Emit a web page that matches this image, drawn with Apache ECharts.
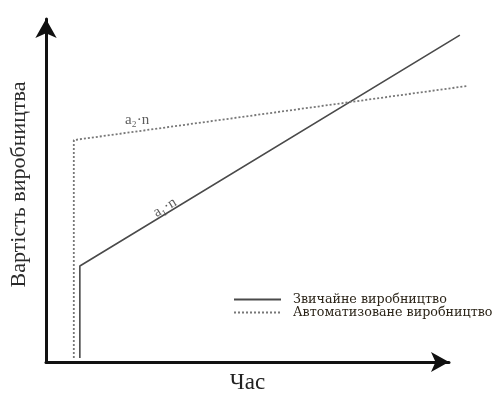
<!DOCTYPE html>
<html>
<head>
<meta charset="utf-8">
<script src="https://cdn.jsdelivr.net/npm/echarts@6/dist/echarts.min.js"></script>
<style>html,body{margin:0;padding:0;background:#fff}#c{width:493px;height:394px}</style>
</head>
<body>
<div id="c"></div>
<script>
// Series names
var seriesNames = ['Звичайне виробництво', 'Автоматизоване виробництво'];
// Ordinary production: fixed cost jump then slope a1·n
var ordinaryX = [8.4, 8.4, 102.7];
var ordinaryY = [1.2, 28.0, 95.3];
// Automated production: higher fixed cost, lower slope a2·n
var automatedX = [6.9, 6.9, 104.7];
var automatedY = [1.2, 64.7, 80.5];
// Annotation labels and their positions (data units)
var annotTexts = ['a₂·n', 'a₁·n'];
var annotX = [22.6, 29.5];
var annotY = [70.6, 45.0];
var annotAngle = [0, 31];
var xName = 'Час';
var yName = 'Вартість виробництва';

function pairs(xs, ys){ return xs.map(function(x,i){ return [x, ys[i]]; }); }

var serif = '"Liberation Serif", "DejaVu Serif", serif';
var hidden = {axisLine: {show: false}, axisTick: {show: false}, axisLabel: {show: false}, splitLine: {show: false}};
var chart = echarts.init(document.getElementById('c'), null, {renderer:'canvas'});
chart.setOption({
  animation: false,
  backgroundColor: '#fff',
  grid: [
    {left: 46, right: 44, top: 19, bottom: 32, containLabel: false, outerBoundsMode: 'none'},
    // data grid: same scale (about 4.03 px per unit) but wider so lines can pass the arrow tip
    {left: 46, right: 20, top: 19, bottom: 32, containLabel: false, outerBoundsMode: 'none'}
  ],
  xAxis: [{
    gridIndex: 0, type: 'value', min: 0, max: 100,
    name: xName, nameLocation: 'middle', nameGap: 9,
    nameTextStyle: {fontFamily: serif, fontSize: 23, color: '#222'},
    axisLine: {show: true, symbol: ['none','arrow'], symbolSize: [15,18], lineStyle: {color: '#111', width: 3}},
    axisTick: {show: false}, axisLabel: {show: false}, splitLine: {show: false}
  }, Object.assign({gridIndex: 1, type: 'value', min: 0, max: 105.96}, hidden)],
  yAxis: [{
    gridIndex: 0, type: 'value', min: 0, max: 100,
    name: yName, nameLocation: 'middle', nameGap: 16,
    nameTextStyle: {fontFamily: serif, fontSize: 22, color: '#2a2a2a', padding: [0,0,0,12]},
    axisLine: {show: true, symbol: ['none','arrow'], symbolSize: [16,19], lineStyle: {color: '#111', width: 3}},
    axisTick: {show: false}, axisLabel: {show: false}, splitLine: {show: false}
  }, Object.assign({gridIndex: 1, type: 'value', min: 0, max: 100}, hidden)],
  legend: {
    orient: 'vertical', left: 233, top: 293, itemGap: 0, padding: 0,
    itemWidth: 47, itemHeight: 12,
    itemStyle: {color: 'rgba(0,0,0,0)', borderWidth: 0, opacity: 0},
    textStyle: {fontFamily: '"DejaVu Serif", serif', fontSize: 12.7, lineHeight: 13, color: '#2b2418', padding: [0,0,0,7]},
    data: seriesNames
  },
  series: [
    {
      name: seriesNames[0], type: 'line', xAxisIndex: 1, yAxisIndex: 1, data: pairs(ordinaryX, ordinaryY),
      symbol: 'none',
      lineStyle: {color: '#4a4a4a', width: 1.6, type: 'solid'},
      itemStyle: {color: '#4a4a4a'}
    },
    {
      name: seriesNames[1], type: 'line', xAxisIndex: 1, yAxisIndex: 1, data: pairs(automatedX, automatedY),
      symbol: 'none',
      lineStyle: {color: '#777', width: 1.8, type: [2,2]},
      itemStyle: {color: '#777'}
    },
    {
      type: 'scatter', xAxisIndex: 1, yAxisIndex: 1, symbolSize: 0, silent: true,
      data: annotTexts.map(function(t,i){
        return {value: [annotX[i], annotY[i]], label: {show: true, formatter: t, rotate: annotAngle[i], position: 'inside',
          fontFamily: serif, fontSize: 15, color: '#333'}};
      })
    }
  ]
});
</script>
</body>
</html>
